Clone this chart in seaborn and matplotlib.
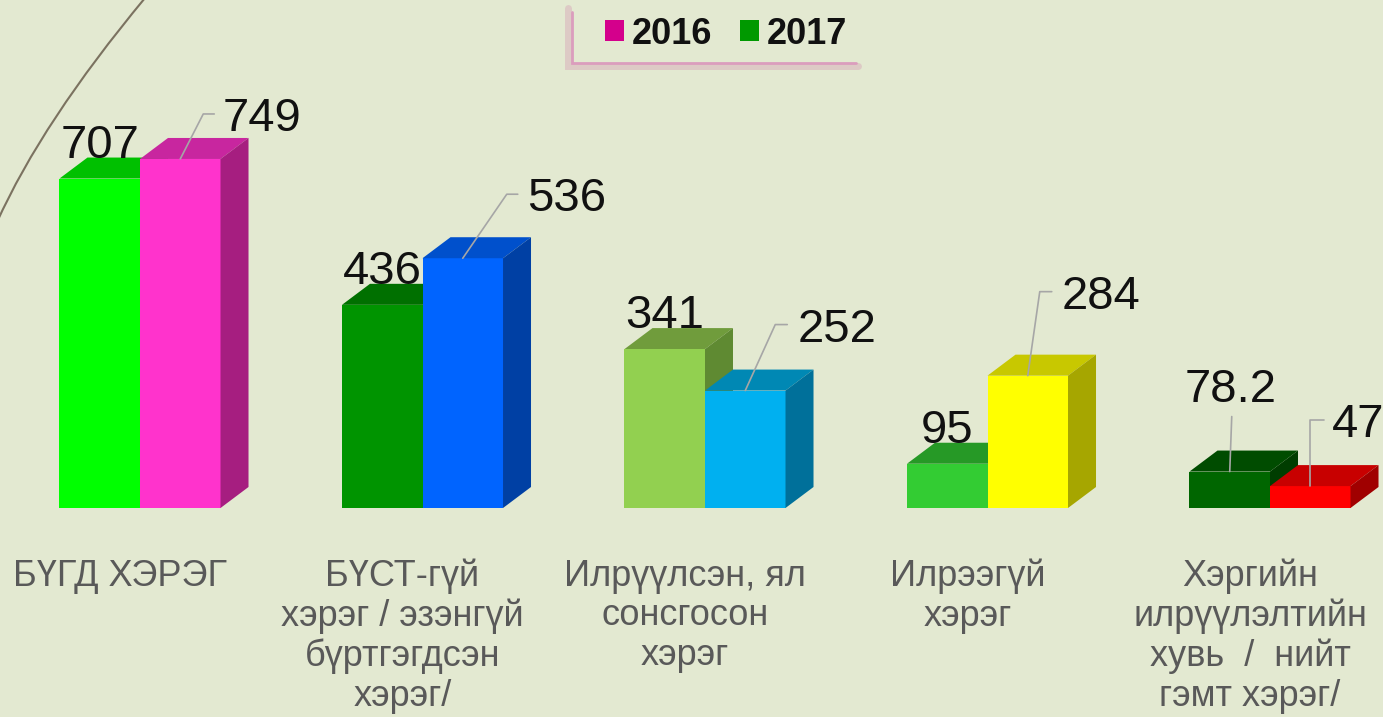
import matplotlib
matplotlib.use("Agg")
import matplotlib.pyplot as plt
import matplotlib.transforms as mtransforms
from matplotlib.patches import Polygon, Patch, PathPatch
from matplotlib.path import Path
from matplotlib.lines import Line2D
import seaborn as sns
import pandas as pd

# Data
categories = [
    "БҮГД ХЭРЭГ",
    "БҮСТ-гүй\nхэрэг / эзэнгүй\nбүртгэгдсэн\nхэрэг/",
    "Илрүүлсэн, ял\nсонсгосон\nхэрэг",
    "Илрээгүй\nхэрэг",
    "Хэргийн\nилрүүлэлтийн\nхувь  /  нийт\nгэмт хэрэг/",
]
years = ["2016", "2017"]
values_2016 = [707, 436, 341, 95, 78.2]
values_2017 = [749, 536, 252, 284, 47]

df = pd.DataFrame({
    "Category": categories * 2,
    "Year": [years[0]] * len(categories) + [years[1]] * len(categories),
    "Value": values_2016 + values_2017,
})

# Colours: front / top / side of every bar
front = [["#00ff00", "#009400", "#92d050", "#33cc33", "#006600"],
         ["#ff33cc", "#0064ff", "#00b0f0", "#ffff00", "#ff0000"]]
top = [["#00c000", "#007000", "#709c3c", "#269926", "#004c00"],
       ["#c8269f", "#0050cc", "#0088b4", "#c8c800", "#c80000"]]
side = [["#00a000", "#005c00", "#5f8a32", "#1e7a1e", "#003d00"],
        ["#a61e80", "#0040a4", "#00709a", "#a6a600", "#a00000"]]
legend_colors = {"2016": "#d4008c", "2017": "#009900"}

BG = "#e3e9d1"
W, H = 1383, 717
DEPTH_X, DEPTH_Y = 28, 21  # px

sns.set_style("white")
plt.rcParams["font.family"] = ["Liberation Sans", "DejaVu Sans"]

fig = plt.figure(figsize=(W / 100, H / 100), dpi=100, facecolor=BG)
ax = fig.add_axes([0, (H - 508) / H, 1, 508 / H])
ax.set_facecolor("none")

sns.barplot(data=df, x="Category", y="Value", hue="Year", order=categories,
            hue_order=years, width=0.57, saturation=1, legend=False, ax=ax)

ax.set_xlim(-140 / 282.5, -140 / 282.5 + W / 282.5)
ax.set_ylim(0, 508 / 0.466)
ax.axis("off")

p0 = ax.transData.transform((0, 0))
p1 = ax.transData.transform((1, 1))
ddx = DEPTH_X / (p1[0] - p0[0])
ddy = DEPTH_Y / (p1[1] - p0[1])

for s, cont in enumerate(ax.containers):
    for i, bar in enumerate(cont):
        x0 = bar.get_x()
        x1 = x0 + bar.get_width()
        h = bar.get_height()
        z = 1 + 2 * s
        bar.set_facecolor(front[s][i])
        bar.set_edgecolor("none")
        bar.set_zorder(z + 1)
        ax.add_patch(Polygon([(x0, h), (x1, h), (x1 + ddx, h + ddy), (x0 + ddx, h + ddy)],
                             closed=True, facecolor=top[s][i], edgecolor="none",
                             zorder=z + (1 if s else 0), clip_on=False))
        ax.add_patch(Polygon([(x1, 0), (x1 + ddx, ddy), (x1 + ddx, h + ddy), (x1, h)],
                             closed=True, facecolor=side[s][i], edgecolor="none",
                             zorder=z + (1 if s else 0), clip_on=False))

# value labels: (dx, dy baseline, ha, leader points) in pixels from the bar's front-top centre
label_pos = [
    [(0, 21, "center", None), (0, 21, "center", None), (0, 21, "center", None),
     (0, 21, "center", None), (1, 70, "center", [(0, 0), (2, 55)])],
    [(42, 28, "left", [(0, 0), (23, 45), (34, 45)]),
     (64, 47, "left", [(0, 0), (44, 64), (55, 64)]),
     (52, 49, "left", [(0, 0), (30, 66), (42, 66)]),
     (34, 67, "left", [(0, 0), (12, 84), (24, 84)]),
     (22, 49, "left", [(0, 0), (0, 66), (14, 66)])],
]
ident = mtransforms.IdentityTransform()
for s, cont in enumerate(ax.containers):
    for i, bar in enumerate(cont):
        xc = bar.get_x() + bar.get_width() / 2
        h = bar.get_height()
        dx, dy, ha, leader = label_pos[s][i]
        ax.annotate(f"{h:g}", xy=(xc, h), xytext=(dx, dy), textcoords="offset pixels",
                    ha=ha, va="baseline", fontsize=34, color="#111111",
                    family=["Liberation Sans", "DejaVu Sans"], zorder=10,
                    annotation_clip=False)
        if leader:
            X, Y = ax.transData.transform((xc, h))
            fig.add_artist(Line2D([X + p[0] for p in leader], [Y + p[1] for p in leader],
                                  transform=ident, color="#a6a6a6", lw=1.2, zorder=9))

# category labels
shift = mtransforms.ScaledTranslation(-20 / 100, -51 / 100, fig.dpi_scale_trans)
for i, cat in enumerate(categories):
    ax.text(i, 0, cat, transform=ax.transData + shift, ha="center", va="top",
            multialignment="center", fontsize=26, color="#595959",
            family=["Liberation Sans", "DejaVu Sans"], linespacing=1.16, clip_on=False)

# legend with L-shaped frame
fig.add_artist(Line2D([568 / W, 568 / W, 858 / W], [1 - 8 / H, 1 - 66 / H, 1 - 66 / H],
                      color="#ddcac5", lw=5, solid_joinstyle="miter"))
fig.add_artist(Line2D([572 / W, 572 / W, 856 / W], [1 - 12 / H, 1 - 62.5 / H, 1 - 62.5 / H],
                      color="#db9dbd", lw=2, solid_joinstyle="miter"))
handles = [Patch(facecolor=legend_colors[y], edgecolor="none") for y in years]
fig.legend(handles, years, loc="center", bbox_to_anchor=(726 / W, 1 - 34 / H), ncol=2,
           frameon=False, prop=dict(family="Liberation Sans", weight="bold", size=26),
           handlelength=0.53, handleheight=0.53, handletextpad=0.22, columnspacing=0.75,
           borderpad=0, borderaxespad=0, labelcolor="#111111")

# decorative arc in the top-left corner
arc = Path([(145, H + 2), (42, H - 122), (-3, H - 222)], [Path.MOVETO, Path.CURVE3, Path.CURVE3])
fig.add_artist(PathPatch(arc, transform=ident, fill=False, edgecolor="#7b7260", lw=1.5))

fig.savefig("out.png", dpi=100, facecolor=fig.get_facecolor())
